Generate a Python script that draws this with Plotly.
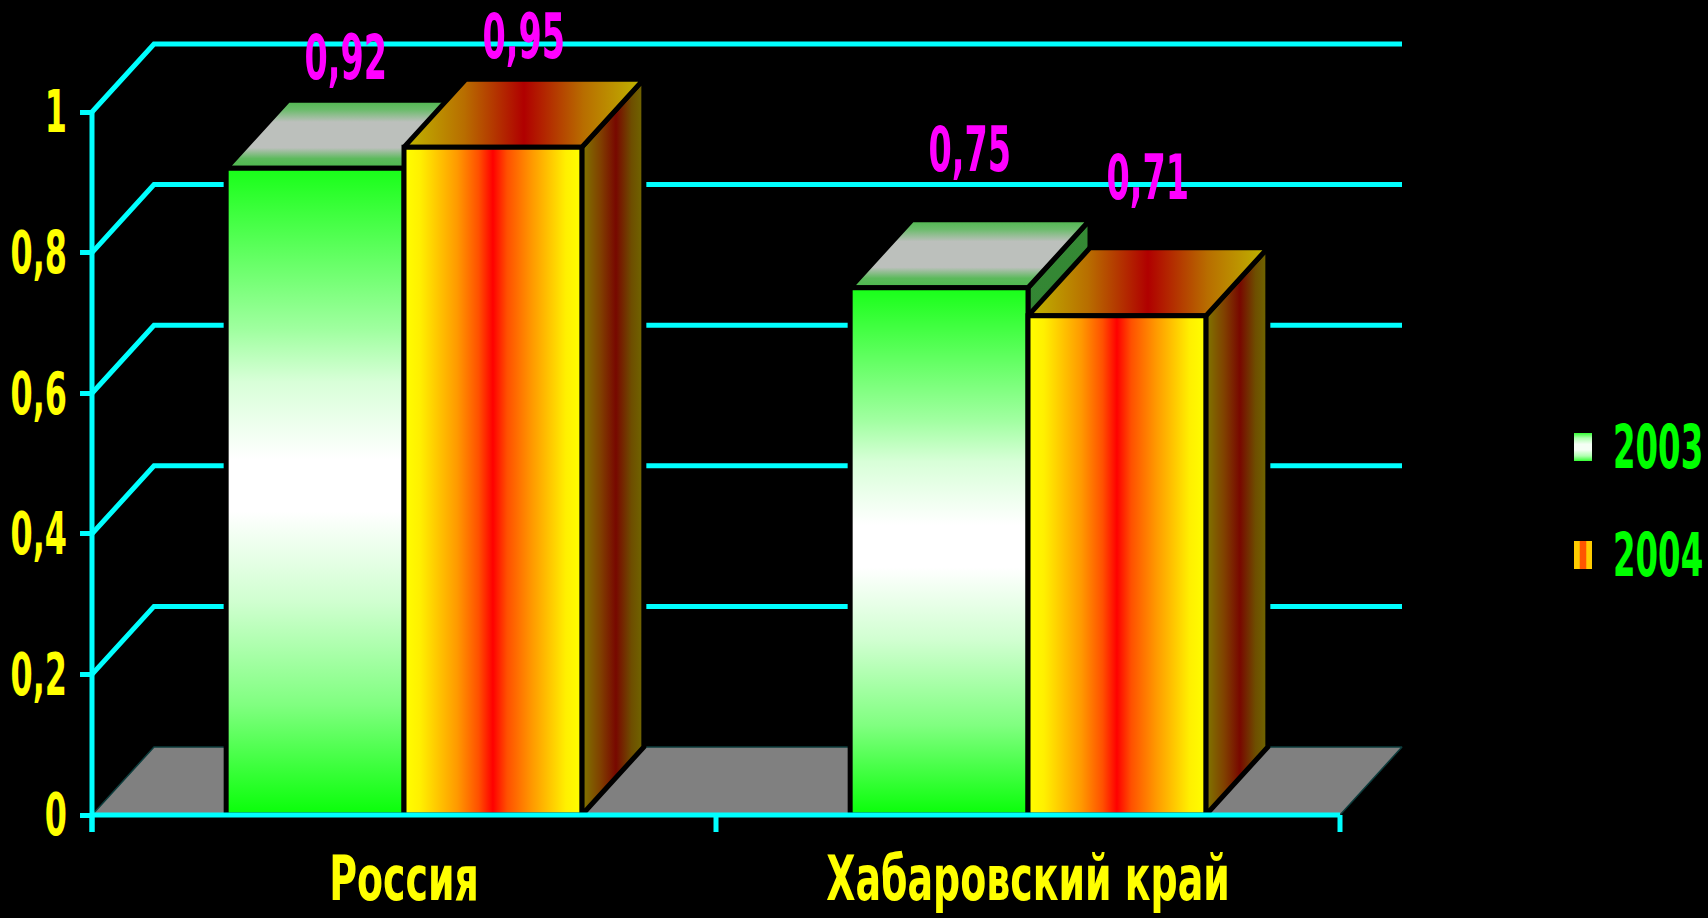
import plotly.graph_objects as go

# ---- data -------------------------------------------------------------
categories = ["Россия", "Хабаровский край"]
series = ["2003", "2004"]
values_2003 = [0.92, 0.75]
values_2004 = [0.95, 0.71]
y_tick_values = [0, 0.2, 0.4, 0.6, 0.8, 1]
y_tick_labels = ["0", "0,2", "0,4", "0,6", "0,8", "1"]

# ---- page / scale geometry (pixels) -----------------------------------
W, H = 1708, 918
PL, PR, PT, PB = 80, 1410, 20, 835      # main plotting rectangle
X_FRONT_PX, Y_ZERO_PX = 92, 815          # front-left corner of the 3-D box
XU, YU = 624.0, 703.0                    # pixels per category / per unit value
DEPTH_PX = (62, 68)                      # oblique depth offset (right, up)

DX, DY = DEPTH_PX[0] / XU, DEPTH_PX[1] / YU
x_range = [-0.5 - (X_FRONT_PX - PL) / XU, -0.5 + (PR - X_FRONT_PX) / XU]
y_range = [-(PB - Y_ZERO_PX) / YU, (Y_ZERO_PX - PT) / YU]
BAR_W = 0.285
X_LEFT, X_RIGHT = -0.5, len(categories) - 0.5

FONT = "DejaVu Sans Condensed, DejaVu Sans, sans-serif"
CYAN, YELLOW, MAGENTA, GREEN = "#00FFFF", "#FFFF00", "#FF00FF", "#00FF00"
EDGE_W = 5

# ---- face colour schemes ----------------------------------------------
green_front = [[0, "#08FF08"], [0.17, "#80FF80"], [0.33, "#D0FFD0"], [0.47, "#FFFFFF"],
               [0.55, "#FFFFFF"], [0.67, "#D8FFD8"], [0.75, "#A0FFA0"], [1, "#18FF18"]]
green_top = [[0, "#4CB84C"], [0.14, "#5CBA5C"], [0.3, "#BCC0BC"], [0.68, "#BCC0BC"],
             [0.86, "#6CBC6C"], [1, "#4CB84C"]]
green_side = [[0, "#2A6E2A"], [1, "#358A35"]]
fire_front = [[0, "#FFFF00"], [0.09, "#FFF000"], [0.3, "#FF9900"], [0.42, "#FF5000"],
              [0.5, "#FF0000"], [0.58, "#FF5000"], [0.72, "#FF9900"], [0.91, "#FFF000"],
              [1, "#FFFF00"]]
fire_top = [[0, "#C0B800"], [0.25, "#B86E00"], [0.5, "#B00000"], [0.75, "#B86E00"],
            [1, "#C0B800"]]
fire_side = [[0, "#807800"], [0.3, "#804000"], [0.55, "#780800"], [0.8, "#6E4E00"],
             [1, "#706800"]]

styles = [
    dict(front=green_front, front_dir="vertical", top=green_top, top_dir="vertical",
         side=green_side, side_dir="vertical", offset=-BAR_W),
    dict(front=fire_front, front_dir="horizontal", top=fire_top, top_dir="horizontal",
         side=fire_side, side_dir="horizontal", offset=0.0),
]

fig = go.Figure()


def face(xs, ys, scale, direction, width=EDGE_W, xaxis="x", yaxis="y", line="black"):
    fig.add_trace(go.Scatter(
        x=xs, y=ys, mode="lines", fill="toself",
        fillgradient=dict(type=direction, colorscale=scale),
        line=dict(color=line, width=width),
        hoverinfo="skip", showlegend=False, xaxis=xaxis, yaxis=yaxis))


def line(xs, ys, color, width):
    fig.add_trace(go.Scatter(x=xs, y=ys, mode="lines", line=dict(color=color, width=width),
                             hoverinfo="skip", showlegend=False))


# floor
fig.add_trace(go.Scatter(
    x=[X_LEFT, X_RIGHT, X_RIGHT + DX, X_LEFT + DX, X_LEFT],
    y=[0, 0, DY, DY, 0], mode="lines", fill="toself", fillcolor="#808080",
    line=dict(color="#0C3C3C", width=1.5), hoverinfo="skip", showlegend=False))

# walls: gridlines running along the left side and back
gx, gy = [], []
for v in y_tick_values[1:]:
    gx += [X_LEFT, X_LEFT + DX, X_RIGHT + DX, None]
    gy += [v, v + DY, v + DY, None]
line(gx, gy, CYAN, 5)

# bars: drawn left to right so nearer faces cover hidden ones
all_values = [values_2003, values_2004]
for ci in range(len(categories)):
    for si, vals in enumerate(all_values):
        st = styles[si]
        v = vals[ci]
        x0 = ci + st["offset"]
        x1 = x0 + BAR_W
        face([x1, x1 + DX, x1 + DX, x1, x1], [0, DY, v + DY, v, 0], st["side"], st["side_dir"])
        face([x0, x1, x1 + DX, x0 + DX, x0], [v, v, v + DY, v + DY, v], st["top"], st["top_dir"])
        face([x0, x1, x1, x0, x0], [0, 0, v, v, 0], st["front"], st["front_dir"])

# front axes
tick_drop = 17 / YU
line([X_LEFT, X_RIGHT], [0, 0], CYAN, 5)
line([X_LEFT, X_LEFT], [-tick_drop, 1.0], CYAN, 5)
tx, ty = [], []
for b in range(len(categories) + 1):
    tx += [X_LEFT + b, X_LEFT + b, None]
    ty += [0, -tick_drop, None]
line(tx, ty, CYAN, 5)

# value labels
label_lift = [43, 70]
for si, vals in enumerate(all_values):
    for ci, v in enumerate(vals):
        xc = ci + styles[si]["offset"] + BAR_W / 2 + DX / 2
        fig.add_annotation(
            x=xc, y=v + DY, xref="x", yref="y", yshift=label_lift[ci],
            text=f"{v:.2f}".replace(".", ","), showarrow=False,
            xanchor="center", yanchor="middle",
            font=dict(family=FONT, size=62, color=MAGENTA, weight="bold"))

# legend swatches (own small axes) with series names
legend_scales = [
    ("vertical", [[0, "#33FF33"], [0.18, "#B0FFB0"], [0.4, "#F5FFF5"], [0.6, "#F5FFF5"],
                  [0.82, "#B0FFB0"], [1, "#33FF33"]]),
    ("horizontal", [[0, "#FFCC00"], [0.3, "#FFCC00"], [0.32, "#FF5500"], [0.68, "#FF5500"],
                    [0.7, "#FFCC00"], [1, "#FFCC00"]]),
]
row_step = 108
for si, name in enumerate(series):
    yc = 133 - si * row_step
    direction, scale = legend_scales[si]
    face([4, 22, 22, 4, 4], [yc - 14, yc - 14, yc + 14, yc + 14, yc - 14], scale, direction,
         width=0, xaxis="x2", yaxis="y2", line="rgba(0,0,0,0)")
    fig.add_annotation(x=88, y=yc, xref="x2", yref="y2", text=name, showarrow=False,
                       xanchor="center", yanchor="middle",
                       font=dict(family=FONT, size=60, color=GREEN, weight="bold"))

paper_w = W - PL
paper_h = PB - PT
fig.update_layout(
    width=W, height=H,
    margin=dict(l=PL, r=0, t=PT, b=H - PB),
    paper_bgcolor="black", plot_bgcolor="black",
    showlegend=False,
    xaxis=dict(domain=[0, (PR - PL) / paper_w], range=x_range, tickvals=[0, 1],
               ticktext=categories, ticks="", showgrid=False, zeroline=False,
               showline=False, ticklabelstandoff=2, automargin=False,
               tickfont=dict(family=FONT, size=62, color=YELLOW, weight="bold")),
    yaxis=dict(range=y_range, tickvals=y_tick_values, ticktext=y_tick_labels,
               ticks="inside", ticklen=12, tickwidth=5, tickcolor=CYAN, automargin=False,
               showgrid=False, zeroline=False, showline=False, ticklabelstandoff=12,
               tickfont=dict(family=FONT, size=58, color=YELLOW, weight="bold")),
    xaxis2=dict(domain=[(1570 - PL) / paper_w, 1.0], range=[0, W - 1570],
                visible=False, anchor="y2"),
    yaxis2=dict(domain=[(PB - 580) / paper_h, (PB - 420) / paper_h], range=[0, 160],
                visible=False, anchor="x2"),
)

# narrow-face lettering: squeeze text horizontally about its anchor point
squeeze_js = """
var gd = document.getElementById('{plot_id}');
function squeeze(sel, s) {
  gd.querySelectorAll(sel).forEach(function (t) {
    if (t.getAttribute('data-squeezed')) return;
    var x = parseFloat(t.getAttribute('x')) || 0;
    var tr = t.getAttribute('transform') || '';
    t.setAttribute('transform', tr + ' translate(' + x + ',0) scale(' + s + ',1) translate(' + (-x) + ',0)');
    t.setAttribute('data-squeezed', '1');
  });
}
squeeze('.annotation-text', 0.6);
squeeze('.ytick text', 0.61);
squeeze('.xtick text', 0.68);
"""

fig.write_html("out.html", post_script=squeeze_js)
